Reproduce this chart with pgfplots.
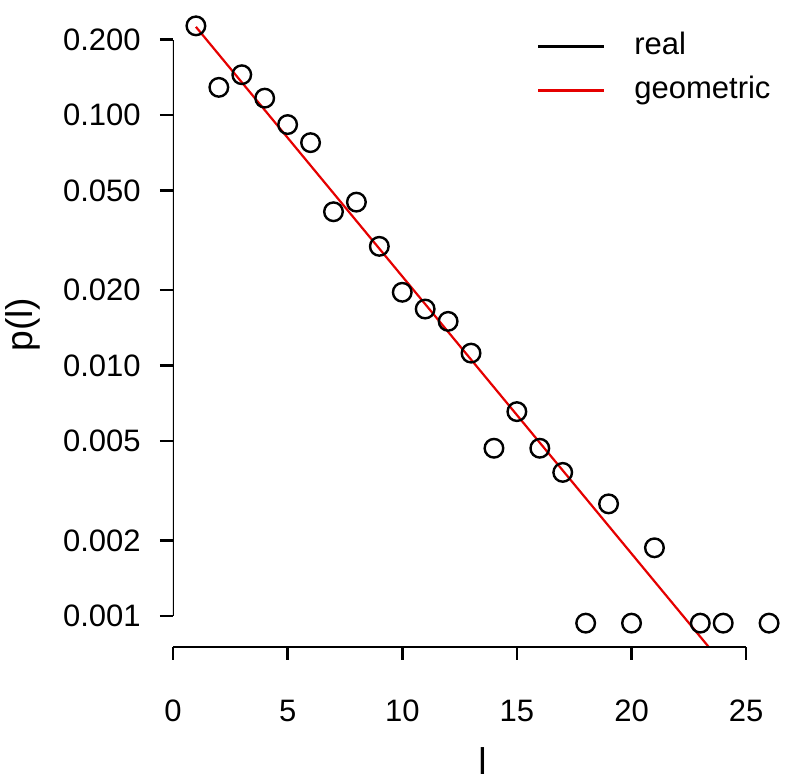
\documentclass[border=0pt]{standalone}
\usepackage{fontspec}
\setmainfont{Liberation Sans}
\usepackage{pgfplots}
\pgfplotsset{compat=1.18}

% observed p(l) and the fitted geometric line
\pgfplotstableread{
l p
1 0.2271
2 0.1290
3 0.1449
4 0.1168
5 0.0916
6 0.0776
7 0.0411
8 0.0449
9 0.0299
10 0.0196
11 0.0168
12 0.0150
13 0.0112
14 0.00467
15 0.00654
16 0.00467
17 0.00374
18 0.000935
19 0.00280
20 0.000935
21 0.00187
23 0.000935
24 0.000935
26 0.000935
}\realdata

\begin{document}
\fontsize{15.5}{18.6}\selectfont
\begin{tikzpicture}
\begin{axis}[
    name=ax,
    scale only axis,
    width=309.5pt,
    height=322.5pt,
    ymode=log,
    xmin=0, xmax=27,
    ymin=0.000751, ymax=0.2828,
    axis x line*=bottom,
    axis y line*=left,
    axis line style={draw=none},
    tick align=outside,
    major tick length=6.5pt,
    tick style={black, line width=1.3pt},
    yminorticks=false,
    xtick={0,5,10,15,20,25},
    xticklabels={0,5,10,15,20,25},
    ytick={0.001,0.002,0.005,0.01,0.02,0.05,0.1,0.2},
    yticklabels={0.001,0.002,0.005,0.010,0.020,0.050,0.100,0.200},
    xticklabel shift=14.8pt,
    yticklabel shift=4.3pt,
    xlabel={l},
    ylabel={p(l)},
    every axis x label/.style={at={(axis description cs:0.5,-0.177)}, anchor=center,
        inner sep=0pt, font=\fontsize{18.6}{22}\selectfont},
    every axis y label/.style={at={(axis description cs:-0.243,0.5)}, anchor=center,
        rotate=90, inner sep=0pt, font=\fontsize{18.6}{22}\selectfont},
    legend image code/.code={\draw[#1] (0pt,0pt) -- (33pt,0pt);},
    legend cell align=left,
    legend style={draw=none, fill=none, inner sep=0pt, outer sep=0pt,
        at={(axis description cs:0.588,0.897)}, anchor=west,
        nodes={inner sep=0pt, text height=12pt, text depth=4pt},
        row sep=6pt,
        /tikz/every odd column/.append style={column sep=14.5pt}},
]
\addplot[only marks, mark=o, mark size=4.65pt, black, line width=1.2pt, forget plot]
    table[x=l, y=p] {\realdata};
\addlegendimage{black, line width=1.2pt}
\addlegendentry{real}
\addplot[red!90!black, line width=1.1pt, no markers] coordinates {(1,0.225) (26,0.000384)};
\addlegendentry{geometric}
% R-style axis lines spanning the tick range only
\draw[line width=1.3pt] (axis cs:0,0.000751) -- (axis cs:25,0.000751);
\draw[line width=1.3pt] (axis cs:0,0.001) -- (axis cs:0,0.2);
\end{axis}
% page extent of the reference
\pgfresetboundingbox
\useasboundingbox (ax.south west) ++(-86.5pt,-66.5pt) rectangle ++(396.5pt,390pt);
\end{tikzpicture}
\end{document}
